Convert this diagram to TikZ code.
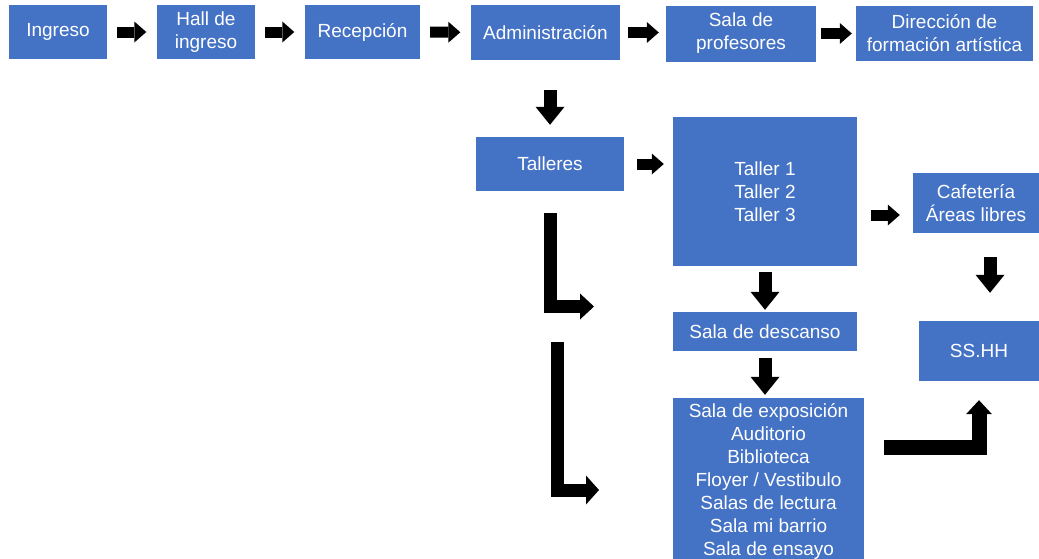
\documentclass[tikz,border=0pt]{standalone}
\usepackage{fontspec}
\setmainfont{Liberation Sans}
\usepackage{xcolor}
\definecolor{ink}{HTML}{000000}
\definecolor{area}{HTML}{4472C4}
\usepackage{tikz}
\usetikzlibrary{arrows.meta, calc}
\tikzset{
  box/.style={fill=area, text=white, align=center, inner sep=0pt,
    font=\fontsize{19}{23}\selectfont},
  hflow/.style={-{Triangle[length=12pt, width=21pt, line width=0pt]}, line width=11pt, color=ink},
  vflow/.style={-{Triangle[length=18pt, width=29pt, line width=0pt]}, line width=13pt, color=ink},
  turn/.style={-{Triangle[length=14pt, width=26pt, line width=0pt]}, line width=13pt, color=ink},
}

\begin{document}
\begin{tikzpicture}[x=1pt, y=-1pt]
  \clip (0,0) rectangle (1039,558);
  % top row
  \node[box, minimum width=98pt, minimum height=54pt] (ing) at (58,32) {Ingreso};
  \node[box, minimum width=98pt, minimum height=54pt] (hall) at (206,32) {Hall de\\ingreso};
  \node[box, minimum width=115pt, minimum height=54pt] (rec) at (362.5,32) {Recepción};
  \node[box, minimum width=149pt, minimum height=55pt] (adm) at (545.5,32.5) {Administración};
  \node[box, minimum width=150pt, minimum height=56pt] (prof) at (741,33.5) {Sala de\\profesores};
  \node[box, minimum width=177pt, minimum height=55pt] (dir) at (944.5,33.5) {Dirección de\\formación artística};
  % workshops and rooms
  \node[box, minimum width=148pt, minimum height=54pt] (tall) at (550,164) {Talleres};
  \node[box, minimum width=184pt, minimum height=149pt] (tlr) at (765,191.5) {Taller 1\\Taller 2\\Taller 3};
  \node[box, minimum width=126pt, minimum height=60pt] (cafe) at (976,203) {Cafetería\\Áreas libres};
  \node[box, minimum width=120pt, minimum height=60pt] (ssh) at (979,351) {SS.HH};
  \node[box, minimum width=184pt, minimum height=39pt] (desc) at (765,331.5) {Sala de descanso};
  \node[box, minimum width=191pt, minimum height=167pt] (expo) at (768.5,481.5)
    {Sala de exposición\\Auditorio\\Biblioteca\\Floyer / Vestibulo\\Salas de lectura\\Sala mi barrio\\Sala de ensayo};
  % top row arrows
  \foreach \a/\b in {ing/hall, hall/rec, rec/adm}
    \draw[hflow, shorten <=10pt, shorten >=10.5pt] (\a) -- (\b);
  \draw[hflow, shorten <=8pt, shorten >=7pt] (adm.east) -- (adm.east -| prof.west);
  \draw[hflow, shorten <=5pt, shorten >=4pt] (prof.east) -- (prof.east -| dir.west);
  % down to the workshops
  \draw[vflow, shorten <=30pt, shorten >=12pt] (adm.south -| tall.north) -- (tall.north);
  \draw[hflow, shorten <=13pt, shorten >=9pt] (tall.east) -- (tall.east -| tlr.west);
  \coordinate (cafein) at ($(cafe.west)+(0,12)$);
  \draw[hflow, shorten <=14pt, shorten >=13pt] (cafein -| tlr.east) -- (cafein);
  \coordinate (cafeout) at ($(cafe.south)+(14,0)$);
  \draw[vflow, shorten <=24pt, shorten >=28pt] (cafeout) -- (cafeout |- ssh.north);
  \draw[vflow, shorten <=6pt, shorten >=2pt] (tlr) -- (desc);
  \draw[vflow, shorten <=7pt, shorten >=3pt] (desc.south) -- (desc.south |- expo.north);
  % bent arrows
  \coordinate (l1end) at (594,306.5);
  \draw[turn, shorten <=22pt] (tall.south) |- (l1end);
  \coordinate (l2top) at (557,342);
  \coordinate (l2end) at (599,490);
  \draw[turn, -{Triangle[length=13pt, width=29pt, line width=0pt]}] (l2top) |- (l2end);
  \coordinate (b1) at (884,447);
  \draw[turn, line width=15pt, shorten >=19pt] (b1) -| (ssh.south);
\end{tikzpicture}
\end{document}
